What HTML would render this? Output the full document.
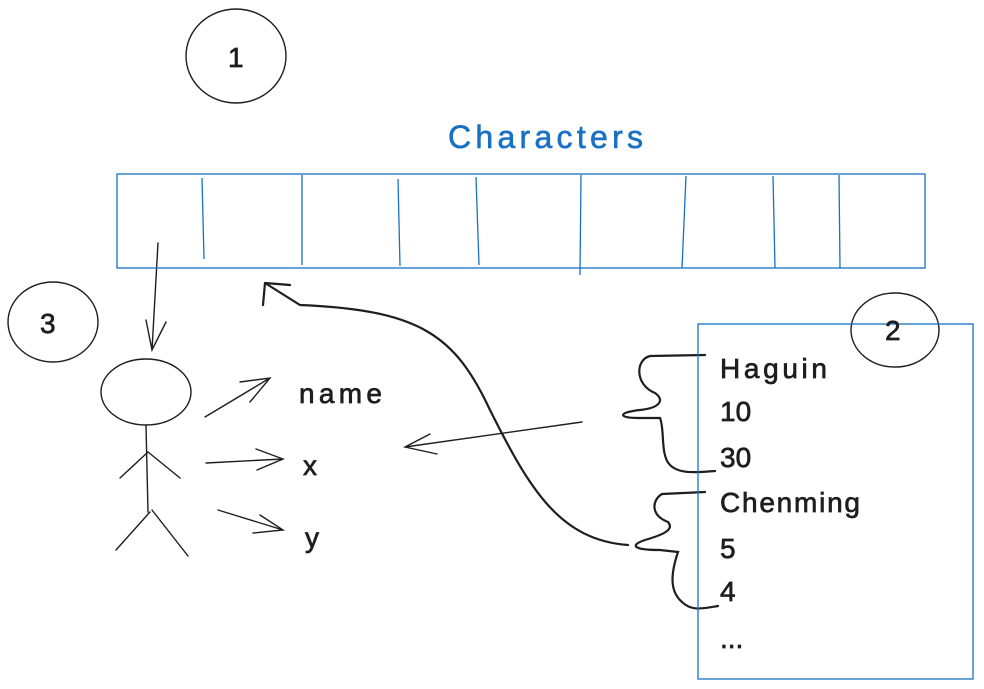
<!DOCTYPE html>
<html><head><meta charset="utf-8"><style>
html,body{margin:0;padding:0;background:#fff;}
svg{display:block}
text{font-family:"Liberation Sans",sans-serif;}
</style></head><body>
<svg width="984" height="689" viewBox="0 0 984 689" xmlns="http://www.w3.org/2000/svg">
<g fill="none" stroke="#1e1e1e" stroke-width="1.4" stroke-linecap="round">
<ellipse cx="236" cy="56" rx="50" ry="47"/>
<ellipse cx="53" cy="322" rx="45" ry="40"/>
<ellipse cx="895" cy="330" rx="44" ry="37"/>
<ellipse cx="146" cy="392" rx="45" ry="33"/>
<path d="M146 425 L148 512 M148 452 L120 478 M148 452 L180 478 M150 512 L116 550 M152 510 L188 556"/>
<path d="M158 243 L152 350 M146 320 L152 350 L166 322"/>
<path d="M205 417 L270 378 M240 382 L270 378 L250 402"/>
<path d="M206 463 L283 459 M256 449 L283 459 L257 470"/>
<path d="M218 510 L283 530 M260 515 L283 530 L253 533"/>
<path d="M582 422 L405 447 M430 434 L405 447 L437 454"/>
</g>
<g fill="none" stroke="#1e1e1e" stroke-width="2.2" stroke-linecap="round">
<path d="M628 545 C560 540 530 490 490 410 C455 335 420 310 300 305 L265 283 M265 283 L263 305 M265 283 L290 285"/>
<path d="M705 355 L650 356 C635 360 635 385 655 393 C665 400 660 408 640 410 C620 412 615 418 640 418 L660 418 C665 430 660 455 670 465 C680 475 700 472 715 471"/>
<path d="M705 492 L662 494 C652 500 650 515 668 522 C675 530 662 535 645 540 C630 545 632 550 660 550 L678 552 C672 570 668 590 682 602 C692 612 705 608 718 606"/>
</g>
<g fill="none" stroke="#1971c2" stroke-width="1.3">
<rect x="117" y="174" width="808" height="94"/>
<path d="M202 178 L204 259 M302 175 L302 265 M398 179 L400 266 M476 177 L479 265 M581 175 L580 275 M686 176 L682 268 M773 176 L775 268 M839 175 L840 268"/>
<rect x="698" y="324" width="275" height="355"/>
</g>
<text x="448" y="148" font-size="32" fill="#1971c2" stroke="#1971c2" stroke-width="0.6" letter-spacing="3" textLength="198" lengthAdjust="spacing">Characters</text>
<g font-size="28" fill="#1e1e1e" stroke="#1e1e1e" stroke-width="0.7">
<text x="228" y="67">1</text>
<text x="40" y="333">3</text>
<text x="885" y="340">2</text>
<text x="299" y="403" textLength="83" lengthAdjust="spacing">name</text>
<text x="303" y="475">x</text>
<text x="305" y="547">y</text>
<text x="720" y="378" textLength="107" lengthAdjust="spacing">Haguin</text>
<text x="720" y="421">10</text>
<text x="720" y="467">30</text>
<text x="720" y="512" textLength="140" lengthAdjust="spacing">Chenming</text>
<text x="720" y="558">5</text>
<text x="720" y="601">4</text>
<text x="720" y="648">...</text>
</g>
</svg>
</body></html>
